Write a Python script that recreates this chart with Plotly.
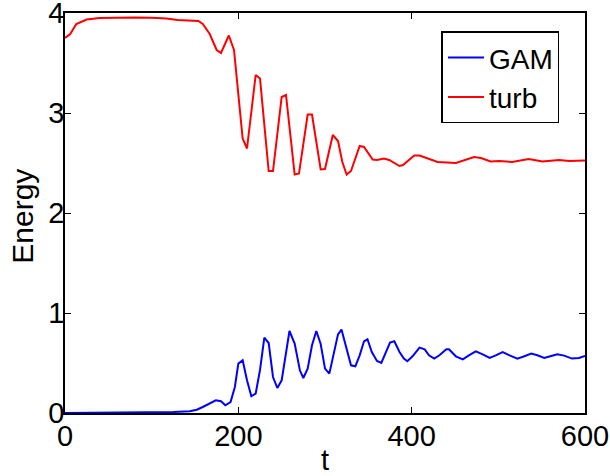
import plotly.graph_objects as go

# GAM energy (blue)
t_gam = [0, 50, 100, 125, 144, 152, 159, 167, 174, 180, 185, 191, 196, 200, 205, 210, 215, 220, 225,
         230, 235, 240, 245, 250, 255, 259, 265, 271, 275, 280, 285, 290, 295, 300, 305, 310, 315,
         319, 324, 330, 335, 340, 345, 349, 354, 360, 365, 370, 375, 380, 386, 391, 395, 401, 409,
         415, 420, 426, 432, 440, 443, 451, 459, 466, 474, 482, 490, 497, 505, 513, 522, 530, 538,
         545, 553, 560, 568, 576, 585, 593, 600]
e_gam = [0.0, 0.001, 0.003, 0.01, 0.017, 0.033, 0.06, 0.10, 0.127, 0.117, 0.077, 0.11, 0.26, 0.494,
         0.527, 0.327, 0.167, 0.194, 0.43, 0.754, 0.70, 0.36, 0.25, 0.327, 0.594, 0.82, 0.694, 0.427,
         0.35, 0.444, 0.677, 0.82, 0.69, 0.444, 0.394, 0.577, 0.787, 0.834, 0.66, 0.477, 0.467, 0.577,
         0.717, 0.737, 0.61, 0.52, 0.50, 0.60, 0.704, 0.717, 0.61, 0.544, 0.517, 0.567, 0.654, 0.637,
         0.577, 0.544, 0.577, 0.637, 0.637, 0.567, 0.537, 0.577, 0.617, 0.587, 0.55, 0.577, 0.61,
         0.577, 0.544, 0.567, 0.594, 0.577, 0.55, 0.567, 0.587, 0.574, 0.544, 0.55, 0.57]

# turbulence energy (red)
t_turb = [0, 6, 13, 25, 40, 60, 80, 100, 117, 130, 144, 154, 159, 167, 175, 180, 189, 195, 205, 210,
          220, 225, 235, 240, 250, 255, 265, 270, 280, 285, 295, 300, 309, 315, 320, 325, 330, 340,
          345, 355, 360, 368, 374, 386, 390, 403, 409, 418, 430, 451, 459, 472, 480, 491, 501, 516,
          535, 551, 570, 582, 600]
e_turb = [3.75, 3.79, 3.89, 3.935, 3.95, 3.955, 3.955, 3.953, 3.945, 3.93, 3.92, 3.92, 3.89, 3.79,
          3.63, 3.60, 3.775, 3.63, 2.745, 2.645, 3.38, 3.345, 2.42, 2.42, 3.16, 3.18, 2.385, 2.395,
          2.985, 2.985, 2.435, 2.44, 2.78, 2.72, 2.51, 2.385, 2.42, 2.67, 2.66, 2.535, 2.53, 2.545,
          2.53, 2.47, 2.48, 2.575, 2.575, 2.545, 2.51, 2.50, 2.52, 2.56, 2.55, 2.515, 2.52, 2.51,
          2.54, 2.515, 2.53, 2.52, 2.525]

x_ticks = [0, 200, 400, 600]
y_ticks = [0, 1, 2, 3, 4]

FONT = "Liberation Sans, Arial, Helvetica, sans-serif"

fig = go.Figure()
fig.add_trace(go.Scatter(x=t_gam, y=e_gam, mode="lines", name="GAM",
                         line=dict(color="#0000FF", width=2)))
fig.add_trace(go.Scatter(x=t_turb, y=e_turb, mode="lines", name="turb",
                         line=dict(color="#FF0000", width=2)))

axis_common = dict(showline=True, linecolor="black", linewidth=1.5, mirror="ticks",
                   ticks="inside", ticklen=6, tickwidth=1, tickcolor="black",
                   showgrid=False, zeroline=False, automargin=False,
                   ticklabeloverflow="allow",
                   tickfont=dict(family=FONT, size=29, color="black"))

fig.update_layout(
    width=610, height=476,
    margin=dict(l=65, r=25, t=13, b=63),
    paper_bgcolor="white", plot_bgcolor="white",
    font=dict(family=FONT, size=29, color="black"),
    xaxis=dict(range=[0, 600], tickvals=x_ticks, ticklabelstandoff=-4, **axis_common,
               title=dict(text="t", font=dict(family=FONT, size=29), standoff=0)),
    yaxis=dict(range=[0, 4], tickvals=y_ticks, ticklabelstandoff=-7, **axis_common),
    legend=dict(x=0.724, y=0.954, xanchor="left", yanchor="top",
                bgcolor="white", bordercolor="black", borderwidth=1.5,
                itemwidth=36,
                font=dict(family=FONT, size=28), tracegroupgap=0),
    showlegend=True,
    annotations=[dict(text="Energy", textangle=-90, xref="paper", yref="paper",
                      x=-0.0817, y=0.492, xanchor="center", yanchor="middle",
                      showarrow=False, font=dict(family=FONT, size=30, color="black"))],
)

fig.write_html("out.html", config={"displayModeBar": False},
               post_script="document.body.style.margin='0';")
